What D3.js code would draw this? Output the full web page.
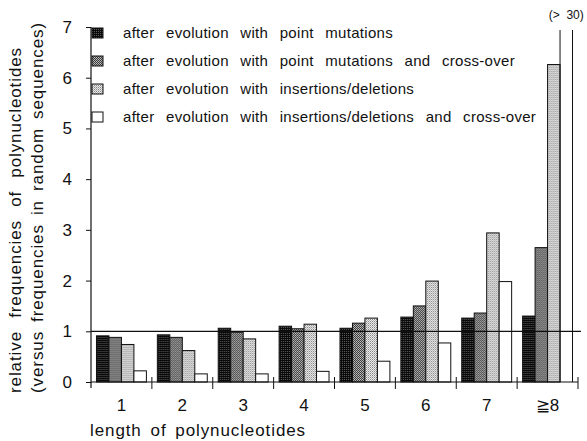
<!DOCTYPE html>
<html>
<head>
<meta charset="utf-8">
<script src="https://cdn.jsdelivr.net/npm/d3@7"></script>
<style>
  body { margin: 0; background: #fff; }
  text { font-family: "Liberation Sans", Arial, sans-serif; fill: #111; }
</style>
</head>
<body>
<div id="chart"></div>
<script>
// data
var lengths = ["1", "2", "3", "4", "5", "6", "7", "\u22678"];
var seriesNames = [
  "after evolution with point mutations",
  "after evolution with point mutations and cross-over",
  "after evolution with insertions/deletions",
  "after evolution with insertions/deletions and cross-over"
];
var pointMut      = [0.91, 0.93, 1.06, 1.10, 1.06, 1.28, 1.26, 1.30];
var pointMutCross = [0.88, 0.88, 0.98, 1.05, 1.16, 1.50, 1.36, 2.65];
var indel         = [0.74, 0.62, 0.85, 1.14, 1.26, 1.99, 2.94, 6.26];
var indelCross    = [0.22, 0.16, 0.16, 0.21, 0.41, 0.77, 1.98, 30];
var yTicks = [0, 1, 2, 3, 4, 5, 6, 7];
var overflowLabel = "(>  30)";

var series = [pointMut, pointMutCross, indel, indelCross];

var margin = {top: 27, right: 9, bottom: 59, left: 91};
var width = 587 - margin.left - margin.right;
var height = 441 - margin.top - margin.bottom;

var svg = d3.select("#chart").append("svg")
  .attr("width", 587)
  .attr("height", 441);

// widen the gaps between words so the line reaches a target width
function wordGap(node, target) {
  var natural = node.getComputedTextLength();
  var gaps = node.textContent.split(" ").length - 1;
  return gaps > 0 ? Math.max(0, (target - natural) / gaps) : 0;
}

// halftone-ish screens
var defs = svg.append("defs");
var screens = [
  {id: "s0", base: "#0a0a0a", dots: [[0, 0, "#5a5a5a"]]},
  {id: "s1", base: "#3a3a3a", dots: [[0, 0, "#c4c4c4"], [1, 1, "#a8a8a8"]]},
  {id: "s2", base: "#ececec", dots: [[0, 0, "#858585"], [1, 1, "#b4b4b4"]]}
];
screens.forEach(function(s) {
  var p = defs.append("pattern")
    .attr("id", s.id)
    .attr("patternUnits", "userSpaceOnUse")
    .attr("width", 2).attr("height", 2);
  p.append("rect").attr("width", 2).attr("height", 2).attr("fill", s.base);
  s.dots.forEach(function(dt) {
    p.append("rect").attr("x", dt[0]).attr("y", dt[1])
      .attr("width", 1).attr("height", 1).attr("fill", dt[2]);
  });
});
var fills = ["url(#s0)", "url(#s1)", "url(#s2)", "#fff"];

var g = svg.append("g")
  .attr("transform", "translate(" + margin.left + "," + margin.top + ")");

var x0 = d3.scaleBand()
  .domain(lengths)
  .range([0, width])
  .paddingInner(0.18)
  .paddingOuter(0.09);
var x1 = d3.scaleBand()
  .domain(d3.range(series.length))
  .range([0, x0.bandwidth()]);
var y = d3.scaleLinear()
  .domain([0, 7])
  .range([height, 0]);
var yCap = 6.94;

// bars
var rows = lengths.map(function(l, i) {
  return {key: l, values: series.map(function(s, j) { return {j: j, v: s[i]}; })};
});

var groups = g.selectAll(".grp")
  .data(rows)
  .enter().append("g")
  .attr("class", "grp")
  .attr("transform", function(d) { return "translate(" + x0(d.key) + ",0)"; });

groups.selectAll("rect")
  .data(function(d) { return d.values.filter(function(e) { return e.v <= 7; }); })
  .enter().append("rect")
  .attr("x", function(d) { return x1(d.j); })
  .attr("y", function(d) { return y(d.v); })
  .attr("width", x1.bandwidth())
  .attr("height", function(d) { return height - y(d.v); })
  .attr("fill", function(d) { return fills[d.j]; })
  .attr("stroke", "#111")
  .attr("stroke-width", 1);

// off-scale bar: open top
groups.selectAll("path.over")
  .data(function(d) { return d.values.filter(function(e) { return e.v > 7; }); })
  .enter().append("path")
  .attr("class", "over")
  .attr("fill", "none")
  .attr("stroke", "#111")
  .attr("d", function(d) {
    var xa = x1(d.j), xb = x1(d.j) + x1.bandwidth();
    return "M" + xa + "," + height + "V" + y(yCap) + "M" + xb + "," + y(yCap) + "V" + height;
  });

rows.forEach(function(r) {
  r.values.filter(function(e) { return e.v > 7; }).forEach(function(e) {
    g.append("text")
      .attr("x", x0(r.key) + x1(e.j) + x1.bandwidth() / 2)
      .attr("y", -8)
      .attr("text-anchor", "middle")
      .attr("font-size", "12px")
      .attr("xml:space", "preserve")
      .text(overflowLabel);
  });
});

// reference line at 1
g.append("line")
  .attr("x1", 0).attr("x2", width + 3)
  .attr("y1", y(1)).attr("y2", y(1))
  .attr("stroke", "#111").attr("stroke-width", 1.2);

// y axis
var yAxisCall = d3.axisLeft(y)
  .tickValues(yTicks)
  .tickFormat(d3.format("d"))
  .tickSize(5)
  .tickPadding(14)
  .tickSizeOuter(0);
var yAxis = g.append("g").attr("class", "y-axis").call(yAxisCall);
yAxis.select(".domain").remove();
yAxis.selectAll("line").attr("stroke", "#111");
yAxis.selectAll("text").attr("font-size", "17px").attr("fill", "#111")
  .style("font-family", "Liberation Sans, Arial, sans-serif");
g.append("line")
  .attr("x1", 0).attr("x2", 0)
  .attr("y1", y(7)).attr("y2", height + 6)
  .attr("stroke", "#111").attr("stroke-width", 1.2);

// x axis
g.append("line")
  .attr("x1", 0).attr("x2", width)
  .attr("y1", height).attr("y2", height)
  .attr("stroke", "#111").attr("stroke-width", 1.2);
g.selectAll(".xtick")
  .data(lengths)
  .enter().append("line")
  .attr("class", "xtick")
  .attr("x1", function(d) { return x0(d) + x0.bandwidth() + x0.step() * 0.09; })
  .attr("x2", function(d) { return x0(d) + x0.bandwidth() + x0.step() * 0.09; })
  .attr("y1", height - 5).attr("y2", height + 7)
  .attr("stroke", "#111");
g.selectAll(".xlab")
  .data(lengths)
  .enter().append("text")
  .attr("class", "xlab")
  .attr("x", function(d) { return x0(d) + x0.bandwidth() / 2; })
  .attr("y", height + 29)
  .attr("text-anchor", "middle")
  .attr("font-size", "17px")
  .text(function(d) { return d; });

// axis titles
function titleText(sel, target) {
  sel.attr("font-size", "17px").attr("letter-spacing", 0.9);
  sel.attr("word-spacing", wordGap(sel.node(), target).toFixed(2));
}
svg.append("text")
  .attr("x", 90).attr("y", 436)
  .text("length of polynucleotides")
  .call(titleText, 216);

svg.append("text")
  .attr("transform", "translate(21,393) rotate(-90)")
  .text("relative frequencies of polynucleotides")
  .call(titleText, 346);
svg.append("text")
  .attr("transform", "translate(43,393) rotate(-90)")
  .text("(versus frequencies in random sequences)")
  .call(titleText, 371);

// legend
var legend = svg.append("g").attr("class", "legend");
var lg = legend.selectAll("g")
  .data(seriesNames)
  .enter().append("g")
  .attr("transform", function(d, i) { return "translate(92," + (33 + i * 28) + ")"; });
lg.append("rect")
  .attr("x", 0).attr("y", -5)
  .attr("width", 11).attr("height", 10)
  .attr("fill", function(d, i) { return fills[i]; })
  .attr("stroke", "#111");
var legendText = lg.append("text")
  .attr("x", 31).attr("y", 5)
  .attr("font-size", "15px")
  .attr("letter-spacing", 0.3)
  .text(function(d) { return d; });
// same word gap on every row, set from the first row (ends near x=393)
var gap = wordGap(legendText.node(), 393 - 123);
legendText.attr("word-spacing", gap.toFixed(2));
</script>
</body>
</html>
